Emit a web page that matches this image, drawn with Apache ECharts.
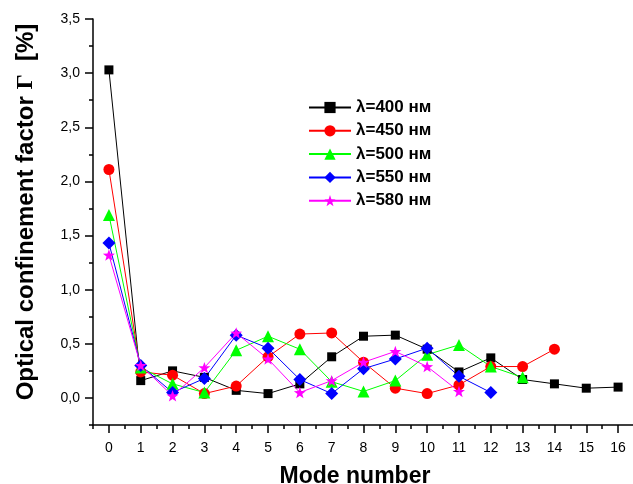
<!DOCTYPE html>
<html>
<head>
<meta charset="utf-8">
<script src="https://cdn.jsdelivr.net/npm/echarts@6/dist/echarts.min.js"></script>
<style>
  html, body { margin: 0; padding: 0; background: #fff; }
  #chart { width: 633px; height: 484px; }
</style>
</head>
<body>
<div id="chart"></div>
<script>
// Mode numbers and tick positions
const modeTicks = [0, 1, 2, 3, 4, 5, 6, 7, 8, 9, 10, 11, 12, 13, 14, 15, 16];
const yTicks = [0, 0.5, 1.0, 1.5, 2.0, 2.5, 3.0, 3.5];

// Series labels
const seriesNames = ['λ=400 нм', 'λ=450 нм', 'λ=500 нм', 'λ=550 нм', 'λ=580 нм'];

// Optical confinement factor (%) per mode number, starting at mode 0
const gamma400 = [3.03, 0.16, 0.25, 0.19, 0.07, 0.04, 0.13, 0.38, 0.57, 0.58, 0.45, 0.24, 0.37, 0.17, 0.13, 0.09, 0.10];
const gamma450 = [2.11, 0.24, 0.21, 0.04, 0.11, 0.38, 0.59, 0.60, 0.33, 0.09, 0.04, 0.12, 0.29, 0.29, 0.45];
const gamma500 = [1.69, 0.28, 0.13, 0.05, 0.44, 0.57, 0.45, 0.15, 0.06, 0.16, 0.40, 0.49, 0.29, 0.19];
const gamma550 = [1.43, 0.30, 0.05, 0.18, 0.58, 0.46, 0.17, 0.04, 0.27, 0.36, 0.46, 0.20, 0.05];
const gamma580 = [1.32, 0.30, 0.02, 0.28, 0.60, 0.36, 0.05, 0.16, 0.33, 0.43, 0.29, 0.06];

const STAR = 'path://M50,0L61.76,33.82L97.55,34.55L69.02,56.18L79.39,90.45L50,70L20.61,90.45L30.98,56.18L2.45,34.55L38.24,33.82Z';

const styles = [
  { color: '#000000', symbol: 'rect', size: 9 },
  { color: '#ff0000', symbol: 'circle', size: 11 },
  { color: '#00ff00', symbol: 'triangle', size: 12 },
  { color: '#0000ff', symbol: 'diamond', size: 13 },
  { color: '#ff00ff', symbol: STAR, size: 12 }
];
const allValues = [gamma400, gamma450, gamma500, gamma550, gamma580];

// Plot frame and axis ranges
const G = { left: 93, top: 19, width: 541, height: 406 };
const X_MIN = -0.5, X_MAX = 16.5, Y_MIN = -0.25, Y_MAX = 3.5;
const pxPerX = G.width / (X_MAX - X_MIN);
const pxPerY = G.height / (Y_MAX - Y_MIN);
const xMajorMin = modeTicks[0], xMajorMax = modeTicks[modeTicks.length - 1];
const yMajorMin = yTicks[0], yMajorMax = yTicks[yTicks.length - 1];

// A second, tick-only frame spanning exactly the labelled range,
// so its integer / half-unit ticks fall on the main scale.
const G2 = {
  left: G.left + (xMajorMin - X_MIN) * pxPerX,
  width: (xMajorMax - xMajorMin) * pxPerX,
  top: G.top + (Y_MAX - yMajorMax) * pxPerY,
  height: (yMajorMax - yMajorMin) * pxPerY
};
const xOffset2 = (yMajorMin - Y_MIN) * pxPerY;
const yOffset2 = (xMajorMin - X_MIN) * pxPerX;

const series = allValues.map((vals, k) => ({
  name: seriesNames[k],
  type: 'line',
  xAxisIndex: 0,
  yAxisIndex: 0,
  data: vals.map((v, i) => [modeTicks[i], v]),
  symbol: styles[k].symbol,
  symbolSize: styles[k].size,
  symbolKeepAspect: true,
  showAllSymbol: true,
  lineStyle: { width: 1, color: styles[k].color },
  itemStyle: { color: styles[k].color },
  emphasis: { disabled: true }
}));

const axisColor = '#000';
const labelFont = { fontFamily: 'Liberation Sans, Arial, sans-serif', fontSize: 14, color: '#000' };
const majorTick = { show: true, inside: false, length: 8, lineStyle: { color: axisColor, width: 1.5 } };
const minorTick = { show: true, inside: false, length: 4, lineStyle: { color: axisColor, width: 1.5 } };
const hiddenLine = { show: true, onZero: false, lineStyle: { color: axisColor, opacity: 0 } };

const chart = echarts.init(document.getElementById('chart'), null, { renderer: 'canvas' });
chart.setOption({
  animation: false,
  backgroundColor: '#fff',
  grid: [
    { ...G, containLabel: false, outerBoundsMode: 'none' },
    { ...G2, containLabel: false, outerBoundsMode: 'none' }
  ],
  legend: {
    orient: 'vertical',
    left: 303,
    top: 94,
    itemWidth: 42,
    itemHeight: 14,
    itemGap: 6.3,
    data: seriesNames,
    selectedMode: false,
    textStyle: { fontFamily: 'Liberation Sans, Arial, sans-serif', fontWeight: 'bold', fontSize: 17, color: '#000', lineHeight: 14 }
  },
  xAxis: [
    {
      gridIndex: 0,
      type: 'value', min: X_MIN, max: X_MAX, interval: 0.5,
      position: 'bottom',
      axisLine: { show: true, onZero: false, lineStyle: { color: axisColor, width: 1.5 } },
      axisTick: minorTick,
      axisLabel: { customValues: modeTicks, margin: 16, ...labelFont },
      splitLine: { show: false },
      name: 'Mode number',
      nameLocation: 'middle',
      nameGap: 40,
      nameMoveOverlap: false,
      nameTextStyle: { fontFamily: 'Liberation Sans, Arial, sans-serif', fontWeight: 'bold', fontSize: 23, color: '#000', padding: [0, 17, 0, 0] }
    },
    {
      gridIndex: 1,
      type: 'value', min: xMajorMin, max: xMajorMax, interval: 1,
      position: 'bottom',
      offset: xOffset2,
      axisLine: hiddenLine,
      axisTick: majorTick,
      axisLabel: { show: false },
      splitLine: { show: false }
    }
  ],
  yAxis: [
    {
      gridIndex: 0,
      type: 'value', min: Y_MIN, max: Y_MAX, interval: 0.25,
      position: 'left',
      axisLine: { show: true, onZero: false, lineStyle: { color: axisColor, width: 1.5 } },
      axisTick: minorTick,
      axisLabel: {
        margin: 13, ...labelFont,
        formatter: v => (yTicks.some(t => Math.abs(t - v) < 1e-9) ? v.toFixed(1).replace('.', ',') : '')
      },
      splitLine: { show: false },
      name: '{a|Optical confinement factor }{g|Γ}{a|  [%]}',
      nameLocation: 'middle',
      nameRotate: 90,
      nameGap: 55,
      nameMoveOverlap: false,
      nameTextStyle: {
        padding: [0, 0, 0, 20],
        rich: {
          a: { fontFamily: 'Liberation Sans, Arial, sans-serif', fontWeight: 'bold', fontSize: 24, color: '#000' },
          g: { fontFamily: 'Liberation Serif, Times New Roman, serif', fontWeight: 'bold', fontSize: 24, color: '#000' }
        }
      }
    },
    {
      gridIndex: 1,
      type: 'value', min: yMajorMin, max: yMajorMax, interval: 0.5,
      position: 'left',
      offset: yOffset2,
      axisLine: hiddenLine,
      axisTick: majorTick,
      axisLabel: { show: false },
      splitLine: { show: false }
    }
  ],
  series: series
});
</script>
</body>
</html>
